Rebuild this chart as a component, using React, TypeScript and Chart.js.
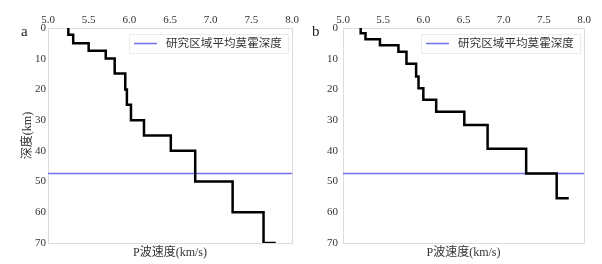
import React, { useEffect, useRef } from "react";
import { Chart, registerables } from "chart.js";

Chart.register(...registerables);

// ---- data ----
const xTicksMin = 5.0;
const xTicksMax = 8.0;
const depthMax = 70;
const mohoDepth = 47.4;
const mohoLabel = "研究区域平均莫霍深度";
const xTitle = "P波速度(km/s)";
const yTitle = "深度(km)";

// panel a: layer top depths (km) and P velocities (km/s)
const layerTopA = [0, 2.2, 5.0, 7.4, 9.9, 14.8, 20, 25, 30, 35, 40, 50, 60, 70];
const velA = [5.25, 5.31, 5.5, 5.71, 5.82, 5.95, 5.97, 6.02, 6.18, 6.51, 6.81, 7.27, 7.65, 7.8];

// panel b
const layerTopB = [0, 1.7, 3.7, 5.6, 7.7, 11.6, 15.8, 19.6, 23.4, 27.3, 31.6, 39.3, 47.4, 55.4];
const velB = [5.22, 5.28, 5.46, 5.69, 5.79, 5.91, 5.94, 6.0, 6.16, 6.51, 6.8, 7.28, 7.66, 7.81];

const SERIF = "'Liberation Serif', 'Noto Sans CJK SC', serif";
const MOHO_COLOR = "rgb(112,112,232)";

type PanelProps = {
  letter: string;
  tops: number[];
  vels: number[];
  width: number;
  showYTitle: boolean;
  padLeft: number;
  yAxisWidth: number;
  yTickPad: number;
  padRight: number;
  letterX: number;
};

function Panel(p: PanelProps) {
  const ref = useRef<HTMLCanvasElement | null>(null);
  useEffect(() => {
    if (!ref.current) return;
    const profile = p.tops.map((d, i) => ({ x: p.vels[i], y: d }));
    const moho = [
      { x: xTicksMin, y: mohoDepth },
      { x: xTicksMax, y: mohoDepth },
    ];
    const decor = {
      id: "decor" + p.letter,
      beforeDatasetsDraw(chart: any) {
        const { ctx, chartArea: a } = chart;
        ctx.save();
        ctx.strokeStyle = "#dcdcdc";
        ctx.lineWidth = 1;
        ctx.strokeRect(Math.round(a.left) + 0.5, Math.round(a.top) + 0.5, Math.round(a.right - a.left), Math.round(a.bottom - a.top));
        ctx.restore();
      },
      afterDraw(chart: any) {
        const { ctx, chartArea: a } = chart;
        ctx.save();
        // legend
        const bw = 159;
        const bx = a.right - 4 - bw;
        const by = a.top + 6;
        const bh = 19;
        ctx.fillStyle = "rgba(255,255,255,0.85)";
        ctx.strokeStyle = "#ececec";
        ctx.lineWidth = 1;
        ctx.beginPath();
        ctx.rect(Math.round(bx) + 0.5, Math.round(by) + 0.5, bw, bh);
        ctx.fill();
        ctx.stroke();
        const ly = by + bh / 2;
        ctx.strokeStyle = MOHO_COLOR;
        ctx.lineWidth = 1.5;
        ctx.beginPath();
        ctx.moveTo(bx + 5, ly);
        ctx.lineTo(bx + 28, ly);
        ctx.stroke();
        ctx.fillStyle = "#333";
        ctx.font = "11.6px " + SERIF;
        ctx.textBaseline = "middle";
        ctx.textAlign = "left";
        ctx.fillText(mohoLabel, bx + 37, ly);
        // panel letter
        ctx.font = "15px " + SERIF;
        ctx.fillStyle = "#222";
        ctx.fillText(p.letter, p.letterX, a.top + 4);
        ctx.restore();
      },
    };
    const chart = new Chart(ref.current, {
      type: "scatter",
      data: {
        datasets: [
          {
            label: "profile",
            data: profile,
            showLine: true,
            stepped: "after",
            borderColor: "#000",
            borderWidth: 2.5,
            borderJoinStyle: "miter",
            pointRadius: 0,
          } as any,
          {
            label: mohoLabel,
            data: moho,
            showLine: true,
            borderColor: MOHO_COLOR,
            borderWidth: 1.5,
            pointRadius: 0,
          } as any,
        ],
      },
      options: {
        responsive: false,
        animation: false,
        devicePixelRatio: 1,
        layout: { padding: { left: p.padLeft, right: p.padRight, top: 0, bottom: 4 } },
        plugins: { legend: { display: false }, tooltip: { enabled: false } },
        scales: {
          x: {
            type: "linear",
            position: "top",
            min: xTicksMin,
            max: xTicksMax,
            grid: { display: false, drawTicks: false },
            border: { display: false },
            ticks: {
              stepSize: 0.5,
              padding: 1,
              color: "#333",
              font: { family: SERIF, size: 11 },
              callback: (v: any) => Number(v).toFixed(1),
            },
            afterFit: (s: any) => {
              s.height = 28;
            },
          },
          x2: {
            type: "linear",
            position: "bottom",
            min: xTicksMin,
            max: xTicksMax,
            grid: { display: false, drawTicks: false },
            border: { display: false },
            ticks: { display: false },
            title: {
              display: true,
              text: xTitle,
              color: "#333",
              font: { family: SERIF, size: 12 },
              padding: { top: 0, bottom: 0 },
            },
            afterFit: (s: any) => {
              s.height = 17;
            },
          },
          y: {
            type: "linear",
            reverse: true,
            min: 0,
            max: depthMax,
            grid: { display: false, drawTicks: false },
            border: { display: false },
            ticks: {
              stepSize: 10,
              padding: p.yTickPad,
              color: "#333",
              font: { family: SERIF, size: 11 },
            },
            title: {
              display: p.showYTitle,
              text: yTitle,
              color: "#333",
              font: { family: SERIF, size: 12 },
              padding: { top: 0, bottom: 0 },
            },
            afterFit: (s: any) => {
              s.width = p.yAxisWidth;
            },
          },
        },
      } as any,
      plugins: [decor],
    });
    return () => chart.destroy();
  }, []);
  return <canvas ref={ref} width={p.width} height={264} style={{ display: "block", width: p.width, height: 264 }} />;
}

export default function App() {
  return (
    <div style={{ position: "absolute", left: 0, top: 0, width: 602, height: 264, display: "flex", background: "#fff" }}>
      <Panel letter="a" tops={layerTopA} vels={velA} width={300} showYTitle={true} padLeft={21} yAxisWidth={27} yTickPad={2} padRight={8} letterX={21} />
      <Panel letter="b" tops={layerTopB} vels={velB} width={302} showYTitle={false} padLeft={22} yAxisWidth={21} yTickPad={5} padRight={18} letterX={12} />
    </div>
  );
}
